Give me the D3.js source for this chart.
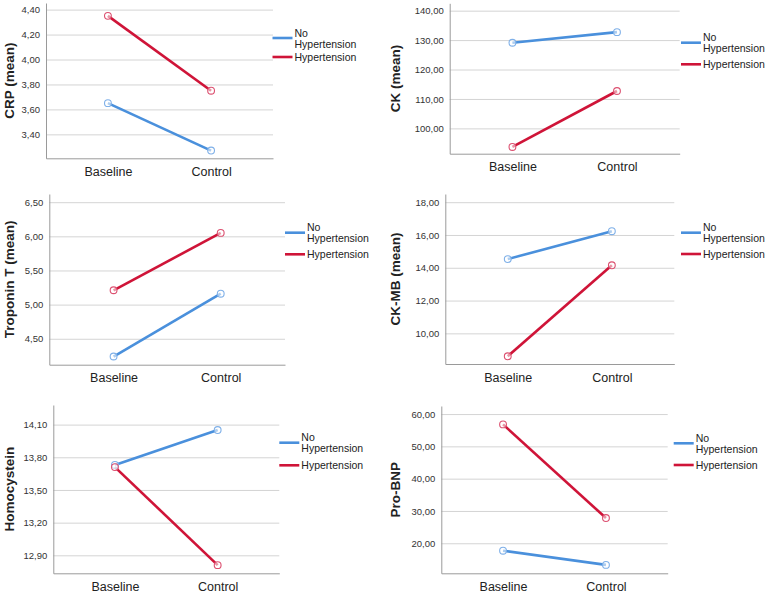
<!DOCTYPE html>
<html>
<head>
<meta charset="utf-8">
<script src="https://cdn.jsdelivr.net/npm/d3@7"></script>
<style>
  body { margin: 0; background: #fff; }
  svg { display: block; font-family: "Liberation Sans", Arial, sans-serif; }
</style>
</head>
<body>
<div id="chart"></div>
<script>
// data
const categories = ["Baseline", "Control"];
const groups = ["No Hypertension", "Hypertension"];

const crpNoHyp = [3.65, 3.27];
const crpHyp = [4.35, 3.75];
const ckNoHyp = [129.1, 132.7];
const ckHyp = [93.7, 112.7];
const tropNoHyp = [4.24, 5.16];
const tropHyp = [5.21, 6.05];
const ckmbNoHyp = [14.53, 16.23];
const ckmbHyp = [8.6, 14.15];
const homoNoHyp = [13.73, 14.05];
const homoHyp = [13.71, 12.81];
const bnpNoHyp = [17.7, 13.3];
const bnpHyp = [56.8, 27.8];

const crpTicks = [3.4, 3.6, 3.8, 4.0, 4.2, 4.4];
const ckTicks = [100, 110, 120, 130, 140];
const tropTicks = [4.5, 5.0, 5.5, 6.0, 6.5];
const ckmbTicks = [10, 12, 14, 16, 18];
const homoTicks = [12.9, 13.2, 13.5, 13.8, 14.1];
const bnpTicks = [20, 30, 40, 50, 60];

const titles = ["CRP (mean)", "CK (mean)", "Troponin T (mean)", "CK-MB (mean)", "Homocystein", "Pro-BNP"];

// panel layout (pixels) and axis ranges
const panels = [
  { title: titles[0], series: [crpNoHyp, crpHyp], ticks: crpTicks, domain: [3.208, 4.453],
    left: 46, right: 273, top: 3, bottom: 158.3, titleX: 9, legX: 272.5, legY: [38, 57] },
  { title: titles[1], series: [ckNoHyp, ckHyp], ticks: ckTicks, domain: [91.4, 142.5],
    left: 449.7, right: 679.7, top: 3.3, bottom: 153.7, titleX: 395, legX: 681, legY: [42.7, 64.3] },
  { title: titles[2], series: [tropNoHyp, tropHyp], ticks: tropTicks, domain: [4.12, 6.62],
    left: 49.3, right: 285, top: 194, bottom: 364.7, titleX: 9, legX: 285, legY: [232.7, 254.3] },
  { title: titles[3], series: [ckmbNoHyp, ckmbHyp], ticks: ckmbTicks, domain: [8.13, 18.5],
    left: 445.3, right: 674.3, top: 194, bottom: 364, titleX: 395, legX: 681, legY: [232.7, 254] },
  { title: titles[4], series: [homoNoHyp, homoHyp], ticks: homoTicks, domain: [12.735, 14.28],
    left: 53.3, right: 279.3, top: 405, bottom: 573.3, titleX: 9, legX: 279.3, legY: [442.7, 465.3] },
  { title: titles[5], series: [bnpNoHyp, bnpHyp], ticks: bnpTicks, domain: [10.7, 62.5],
    left: 441.3, right: 667.7, top: 406, bottom: 573.3, titleX: 395, legX: 673.7, legY: [443.3, 465] }
];

const colors = ["#4a90dc", "#cf1438"];
const markerColors = ["#7fb0e8", "#dc5070"];
const fmt = d3.formatLocale({ decimal: ",", thousands: ".", grouping: [3], currency: ["", ""] }).format(".2f");

const svg = d3.select("#chart").append("svg").attr("width", 774).attr("height", 593);

panels.forEach(p => {
  const x = d3.scalePoint().domain(categories).range([p.left, p.right]).padding(0.6);
  const y = d3.scaleLinear().domain(p.domain).range([p.bottom, p.top]);
  const g = svg.append("g");

  // gridlines
  g.append("g")
    .attr("transform", `translate(${p.left},0)`)
    .call(d3.axisLeft(y).tickValues(p.ticks).tickSize(-(p.right - p.left)).tickFormat(""))
    .call(a => a.select(".domain").remove())
    .call(a => a.selectAll("line").attr("stroke", "#d4d4d4").attr("stroke-width", 1));

  // y axis
  g.append("g")
    .attr("transform", `translate(${p.left},0)`)
    .call(d3.axisLeft(y).tickValues(p.ticks).tickSize(0).tickPadding(6).tickFormat(fmt))
    .call(a => a.select(".domain").attr("stroke", "#9a9a9a"))
    .call(a => a.selectAll("text").attr("font-size", 9.5).attr("fill", "#333")
      .attr("font-family", "'Liberation Sans', Arial, sans-serif"));

  // x axis
  g.append("g")
    .attr("transform", `translate(0,${p.bottom})`)
    .call(d3.axisBottom(x).tickSize(0).tickPadding(0).tickSizeOuter(0))
    .call(a => a.select(".domain").attr("stroke", "#9a9a9a"))
    .call(a => a.selectAll(".tick text").attr("dy", null).attr("y", 17.5)
      .attr("font-size", 12.5).attr("fill", "#222")
      .attr("font-family", "'Liberation Sans', Arial, sans-serif"));

  // y title
  g.append("text")
    .attr("transform", `translate(${p.titleX},${(p.top + p.bottom) / 2}) rotate(-90)`)
    .attr("text-anchor", "middle")
    .attr("dominant-baseline", "central")
    .attr("font-size", 13.5)
    .attr("font-weight", "bold")
    .attr("fill", "#222")
    .text(p.title);

  // lines and markers
  const line = d3.line().x((d, i) => x(categories[i])).y(d => y(d));
  p.series.forEach((s, k) => {
    g.append("path")
      .datum(s)
      .attr("d", line)
      .attr("fill", "none")
      .attr("stroke", colors[k])
      .attr("stroke-width", 2.6);
  });
  p.series.forEach((s, k) => {
    g.selectAll(null)
      .data(s)
      .join("circle")
      .attr("cx", (d, i) => x(categories[i]))
      .attr("cy", d => y(d))
      .attr("r", 3.4)
      .attr("fill", "rgba(255,255,255,0.55)")
      .attr("stroke", markerColors[k])
      .attr("stroke-width", 1.1);
  });

  // legend
  groups.forEach((name, k) => {
    const ly = p.legY[k];
    g.append("line")
      .attr("x1", p.legX).attr("x2", p.legX + 20)
      .attr("y1", ly).attr("y2", ly)
      .attr("stroke", colors[k]).attr("stroke-width", 2.6);
    const t = g.append("text")
      .attr("x", p.legX + 22)
      .attr("font-size", 10.5)
      .attr("fill", "#222");
    if (k === 0) {
      const parts = name.split(" ");
      t.append("tspan").attr("x", p.legX + 22).attr("y", ly - 1.3).text(parts[0]);
      t.append("tspan").attr("x", p.legX + 22).attr("y", ly + 9.5).text(parts[1]);
    } else {
      t.attr("y", ly + 4).text(name);
    }
  });
});
</script>
</body>
</html>
